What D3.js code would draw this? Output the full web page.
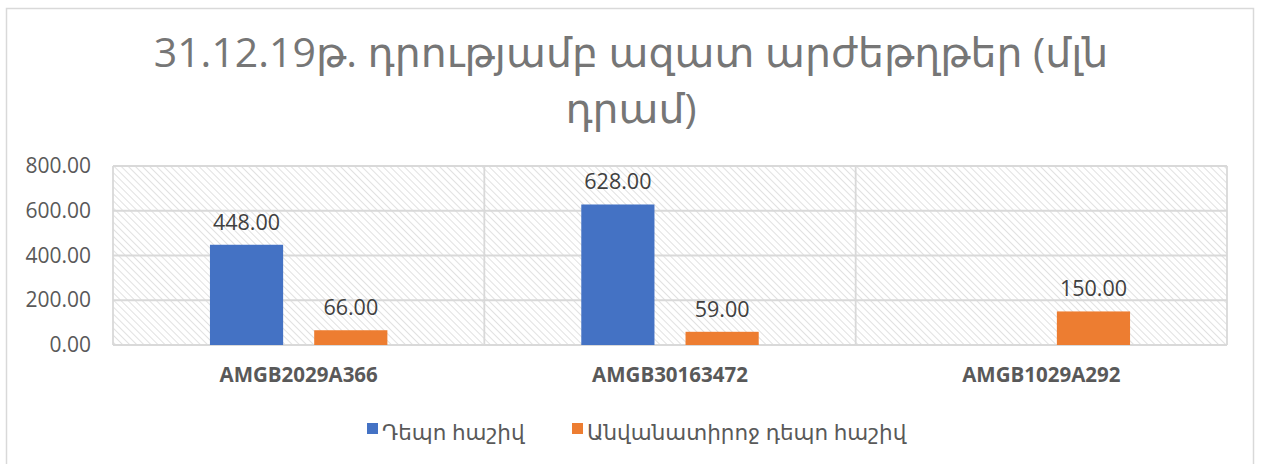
<!DOCTYPE html>
<html>
<head>
<meta charset="utf-8">
<script src="https://cdn.jsdelivr.net/npm/d3@7"></script>
<style>
  body { margin: 0; background: #fff; }
  svg text { font-family: "Open Sans", "DejaVu Sans", sans-serif; }
</style>
</head>
<body>
<div id="chart"></div>
<script>
// chart data
const titleLines = ["31.12.19թ. դրությամբ ազատ արժեթղթեր (մլն", "դրամ)"];
const categories = ["AMGB2029A366", "AMGB30163472", "AMGB1029A292"];
const seriesNames = ["Դեպո հաշիվ", "Անվանատիրոջ դեպո հաշիվ"];
const depoValues = [448, 628, null];
const nomineeValues = [66, 59, 150];
const yTicks = [0, 200, 400, 600, 800];
const colors = ["#4472c4", "#ed7d31"];

class BarChart {
    constructor(parentElement) {
        this.parentElement = parentElement;
        this.initVis();
    }

    initVis() {
        let vis = this;
        vis.W = 1261;
        vis.H = 464;
        vis.margin = { top: 166, right: 34, bottom: 119, left: 113 };
        vis.width = vis.W - vis.margin.left - vis.margin.right;
        vis.height = vis.H - vis.margin.top - vis.margin.bottom;

        vis.svg = d3.select("#" + vis.parentElement).append("svg")
            .attr("width", vis.W)
            .attr("height", vis.H);

        // hatch pattern for plot area
        let defs = vis.svg.append("defs");
        defs.append("pattern")
            .attr("id", "hatch")
            .attr("patternUnits", "userSpaceOnUse")
            .attr("width", 5)
            .attr("height", 5)
            .attr("patternTransform", "rotate(-45)")
            .append("line")
            .attr("x1", 0).attr("y1", 0)
            .attr("x2", 0).attr("y2", 5)
            .attr("stroke", "#d4d4d4")
            .attr("stroke-width", 1.4);

        // outer chart border
        vis.svg.append("rect")
            .attr("x", 6.5).attr("y", 8.5)
            .attr("width", 1247).attr("height", 470)
            .attr("fill", "#fff")
            .attr("stroke", "#d9d9d9")
            .attr("stroke-width", 1.5);

        // title, two separate lines
        vis.svg.append("g")
            .selectAll("text")
            .data(titleLines)
            .join("text")
            .attr("x", 631)
            .attr("y", (d, i) => 67 + i * 56)
            .attr("text-anchor", "middle")
            .attr("fill", "#767676")
            .attr("font-size", 41)
            .text(d => d);

        vis.g = vis.svg.append("g")
            .attr("transform", "translate(" + vis.margin.left + "," + vis.margin.top + ")");

        vis.x0 = d3.scaleBand()
            .domain(categories)
            .range([0, vis.width]);

        vis.x1 = d3.scaleBand()
            .domain(seriesNames)
            .range([0, vis.x0.bandwidth()])
            .paddingInner(0.298)
            .paddingOuter(0.93);

        vis.y = d3.scaleLinear()
            .domain([0, 800])
            .range([vis.height, 0]);

        vis.wrangleData();
    }

    wrangleData() {
        let vis = this;
        vis.displayData = [];
        categories.forEach((c, i) => {
            [depoValues, nomineeValues].forEach((arr, s) => {
                if (arr[i] != null) {
                    vis.displayData.push({ cat: c, series: seriesNames[s], idx: s, value: arr[i] });
                }
            });
        });
        vis.updateVis();
    }

    updateVis() {
        let vis = this;

        // plot background
        vis.g.append("rect")
            .attr("width", vis.width)
            .attr("height", vis.height)
            .attr("fill", "url(#hatch)");

        // horizontal gridlines
        vis.g.append("g")
            .selectAll("line")
            .data(yTicks)
            .join("line")
            .attr("x1", 0).attr("x2", vis.width)
            .attr("y1", d => vis.y(d)).attr("y2", d => vis.y(d))
            .attr("stroke", "#d9d9d9")
            .attr("stroke-width", 1.8);

        // vertical category separators
        vis.g.append("g")
            .selectAll("line")
            .data([0, ...categories.slice(1), "end"])
            .join("line")
            .attr("x1", d => d === "end" ? vis.width : (d === 0 ? 0 : vis.x0(d)))
            .attr("x2", d => d === "end" ? vis.width : (d === 0 ? 0 : vis.x0(d)))
            .attr("y1", 0).attr("y2", vis.height)
            .attr("stroke", "#d9d9d9")
            .attr("stroke-width", 1.8);

        // y axis labels
        vis.yAxis = d3.axisLeft(vis.y)
            .tickValues(yTicks)
            .tickFormat(d3.format(".2f"))
            .tickSize(0)
            .tickPadding(22);
        let ya = vis.g.append("g").call(vis.yAxis);
        ya.select(".domain").remove();
        ya.selectAll("text")
            .attr("font-size", 21)
            .attr("fill", "#595959")
            .attr("font-family", null);

        // x axis labels
        vis.xAxis = d3.axisBottom(vis.x0).tickSize(0).tickPadding(22);
        let xa = vis.g.append("g")
            .attr("transform", "translate(0," + vis.height + ")")
            .call(vis.xAxis);
        xa.select(".domain").remove();
        xa.selectAll("text")
            .attr("font-size", 20.5)
            .attr("font-weight", "bold")
            .attr("fill", "#595959")
            .attr("font-family", null);

        // bars
        vis.g.append("g")
            .selectAll("rect")
            .data(vis.displayData)
            .join("rect")
            .attr("x", d => vis.x0(d.cat) + vis.x1(d.series))
            .attr("y", d => vis.y(d.value))
            .attr("width", vis.x1.bandwidth())
            .attr("height", d => vis.height - vis.y(d.value))
            .attr("fill", d => colors[d.idx]);

        // value labels
        vis.g.append("g")
            .selectAll("text")
            .data(vis.displayData)
            .join("text")
            .attr("x", d => vis.x0(d.cat) + vis.x1(d.series) + vis.x1.bandwidth() / 2)
            .attr("y", d => vis.y(d.value) - 15)
            .attr("text-anchor", "middle")
            .attr("font-size", 21.5)
            .attr("fill", "#404040")
            .text(d => d3.format(".2f")(d.value));

        // legend
        let legendX = [367, 572];
        let legend = vis.svg.append("g")
            .selectAll("g")
            .data(seriesNames)
            .join("g")
            .attr("transform", (d, i) => "translate(" + legendX[i] + ",423)");
        legend.append("rect")
            .attr("width", 11).attr("height", 11)
            .attr("fill", (d, i) => colors[i]);
        legend.append("text")
            .attr("x", 15)
            .attr("y", 17)
            .attr("font-size", 21.5)
            .attr("fill", "#595959")
            .text(d => d);
    }
}

new BarChart("chart");
</script>
</body>
</html>
